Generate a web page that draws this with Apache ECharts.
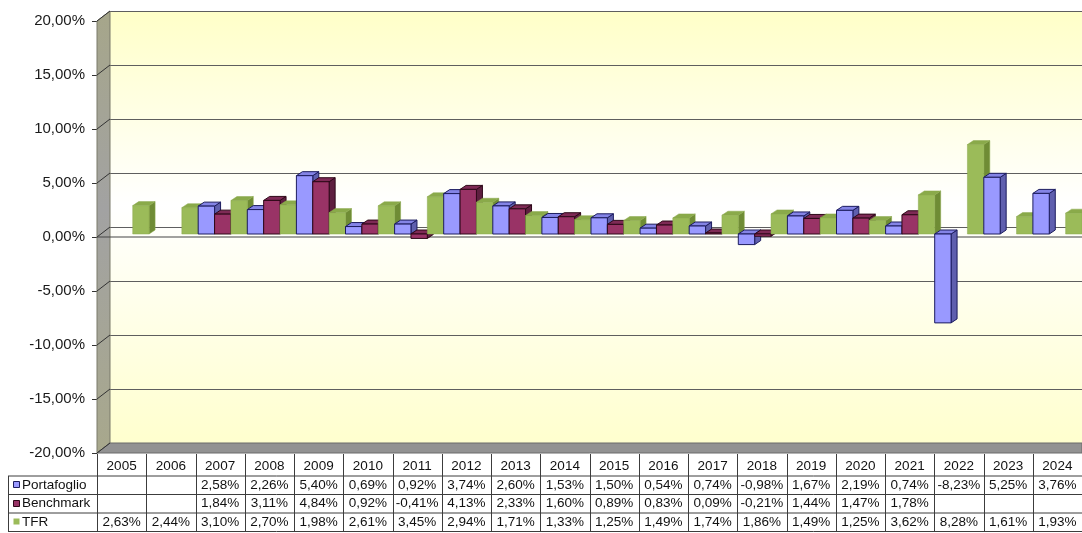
<!DOCTYPE html>
<html><head><meta charset="utf-8">
<script src="https://cdn.jsdelivr.net/npm/echarts@6/dist/echarts.min.js"></script>
<style>html,body{margin:0;padding:0;background:#fff}#c{width:1082px;height:533px}</style>
</head><body><div id="c"></div>
<script>
const years = ['2005','2006','2007','2008','2009','2010','2011','2012','2013','2014','2015','2016','2017','2018','2019','2020','2021','2022','2023','2024'];
const portafoglio = [null,null,2.58,2.26,5.40,0.69,0.92,3.74,2.60,1.53,1.50,0.54,0.74,-0.98,1.67,2.19,0.74,-8.23,5.25,3.76];
const benchmark = [null,null,1.84,3.11,4.84,0.92,-0.41,4.13,2.33,1.60,0.89,0.83,0.09,-0.21,1.44,1.47,1.78,null,null,null];
const tfr = [2.63,2.44,3.10,2.70,1.98,2.61,3.45,2.94,1.71,1.33,1.25,1.49,1.74,1.86,1.49,1.25,3.62,8.28,1.61,1.93];
const seriesNames = ['Portafoglio','Benchmark','TFR'];
const yTicks = [-20,-15,-10,-5,0,5,10,15,20];

const FONT = '"Liberation Sans", Arial, sans-serif';
const fmt = v => v.toFixed(2).replace('.', ',') + '%';
const YMIN = yTicks[0], YMAX = yTicks[yTicks.length-1], YINT = yTicks[1]-yTicks[0];

const STYLES = [
  {front:'#9999FF', top:'#8484E6', side:'#5F5FAE', stroke:'#1C1C5E', lw:1},
  {front:'#993366', top:'#7E2A55', side:'#5E1F40', stroke:'#2E0818', lw:1},
  {front:'#9BBB59', top:'#8AAA4A', side:'#6F8C35', stroke:'#8AA84C', lw:0.5}
];

function barRender(si) {
  const c = STYLES[si];
  return function (params, api) {
    const i = api.value(0), v = api.value(1);
    const p0 = api.coord([i, 0]), p1 = api.coord([i, v]);
    const cw = api.size([1, 0])[0];
    const bw = cw / 3;
    const x = p0[0] - cw / 2 + si * bw;
    const yT = Math.min(p0[1], p1[1]), yB = Math.max(p0[1], p1[1]);
    const dx = 6, dy = 4;
    const z = i * 10 + si * 3;
    return {type:'group', children:[
      {type:'polygon', z2:z, shape:{points:[[x+bw,yT],[x+bw+dx,yT-dy],[x+bw+dx,yB-dy],[x+bw,yB]]}, style:{fill:c.side, stroke:c.stroke, lineWidth:c.lw}},
      {type:'polygon', z2:z+1, shape:{points:[[x,yT],[x+dx,yT-dy],[x+bw+dx,yT-dy],[x+bw,yT]]}, style:{fill:c.top, stroke:c.stroke, lineWidth:c.lw}},
      {type:'rect', z2:z+2, shape:{x:x, y:yT, width:bw, height:Math.max(yB-yT, 0.8)}, style:{fill:c.front, stroke:c.stroke, lineWidth:c.lw}}
    ]};
  };
}
const toData = arr => arr.map((v, i) => [i, v]).filter(d => d[1] !== null);

const chart = echarts.init(document.getElementById('c'), null, {renderer:'canvas'});
const yBase = {min:YMIN, max:YMAX, interval:YINT, type:'value'};
chart.setOption({
  animation:false,
  backgroundColor:'#ffffff',
  grid:[
    {left:110, right:0, top:11, height:432, show:true, borderWidth:0,
     backgroundColor:new echarts.graphic.LinearGradient(0,0,0,1,[
       {offset:0, color:'#FFFFC8'},{offset:0.45, color:'#FFFFFF'},{offset:1, color:'#FFFFCE'}])},
    {left:100, right:-3, top:18, height:432},
    {left:97, width:1, top:21, height:432},
    {left:97, right:0, top:453, height:1}
  ],
  xAxis:[0,1,2,3].map(g => ({gridIndex:g, type:'category', data:years, show:false})),
  yAxis:[
    Object.assign({gridIndex:0, axisLabel:{show:false}, axisLine:{show:false}, axisTick:{show:false},
      splitLine:{show:true, lineStyle:{color:'#5E5E5E', width:1}}}, yBase),
    Object.assign({gridIndex:1, show:false}, yBase),
    Object.assign({gridIndex:2, axisLine:{show:false}, splitLine:{show:false},
      axisTick:{show:true, length:5, lineStyle:{color:'#333'}},
      axisLabel:{formatter:fmt, fontSize:15, color:'#1a1a1a', fontFamily:FONT, margin:12}}, yBase),
    {gridIndex:3, type:'value', show:false}
  ],
  series:[portafoglio, benchmark, tfr].map((arr, si) => ({
    type:'custom', name:seriesNames[si], xAxisIndex:1, yAxisIndex:1, z:3,
    encode:{x:0, y:1}, data:toData(arr), renderItem:barRender(si)
  }))
});

// decorations and data table, positioned through the axes
const yF = v => chart.convertToPixel({yAxisIndex:2}, v);
const yB = v => chart.convertToPixel({yAxisIndex:0}, v);
const xF = 97, xB = 110, RIGHT = 1082;
const g = [];
g.push({type:'polygon', z:1, shape:{points:[[xF,yF(YMAX)],[xB,yB(YMAX)],[xB,yB(YMIN)],[xF,yF(YMIN)]]},
  style:{fill:new echarts.graphic.LinearGradient(0,0,0,1,[
    {offset:0,color:'#A6A68A'},{offset:0.45,color:'#A2A2A2'},{offset:1,color:'#A8A88C'}]), stroke:'#7A7A6A', lineWidth:1}});
g.push({type:'polygon', z:1, shape:{points:[[xF,yF(YMIN)],[xB,yB(YMIN)],[RIGHT,yB(YMIN)],[RIGHT,yF(YMIN)]]},
  style:{fill:'#929292', stroke:'#6A6A6A', lineWidth:1}});
yTicks.forEach(t => {
  g.push({type:'line', z:1, shape:{x1:xF, y1:yF(t), x2:xB, y2:yB(t)}, style:{stroke:'#333', lineWidth:1}});
});
g.push({type:'line', z:1, shape:{x1:xF, y1:yF(0), x2:RIGHT, y2:yF(0)}, style:{stroke:'#444', lineWidth:1.2}});

// table
const tx = i => chart.convertToPixel({xAxisIndex:3}, i);
const cw = tx(1) - tx(0);
const colL = i => tx(i) - cw / 2;
const hdrTop = 453, rowB = [476, 494.5, 513, 531.5];
const LINE = '#3C3C3C';
rowB.forEach(y => g.push({type:'line', z:1, shape:{x1:8, y1:y, x2:RIGHT, y2:y}, style:{stroke:LINE, lineWidth:1}}));
g.push({type:'line', z:1, shape:{x1:8.5, y1:rowB[0], x2:8.5, y2:rowB[3]}, style:{stroke:LINE, lineWidth:1}});
for (let i = 0; i < years.length; i++) {
  const x = Math.round(colL(i)) + 0.5;
  g.push({type:'line', z:1, shape:{x1:x, y1:hdrTop+1, x2:x, y2:rowB[3]}, style:{stroke:LINE, lineWidth:1}});
  g.push({type:'text', z:1, x:tx(i), y:466, style:{text:years[i], fontSize:13.5, fontFamily:FONT, fill:'#111',
    textAlign:'center', textVerticalAlign:'middle', align:'center', verticalAlign:'middle'}});
}
const rowData = [portafoglio, benchmark, tfr];
rowData.forEach((arr, r) => {
  const yc = (rowB[r] + rowB[r+1]) / 2;
  const c = STYLES[r];
  g.push({type:'rect', z:1, shape:{x:13.5, y:Math.round(yc)-3.5, width:6, height:6},
    style:{fill:c.front, stroke: r < 2 ? c.stroke : null, lineWidth:1}});
  g.push({type:'text', z:1, x:22, y:yc, style:{text:seriesNames[r], fontSize:13.5, fontFamily:FONT, fill:'#111',
    textAlign:'left', textVerticalAlign:'middle', align:'left', verticalAlign:'middle'}});
  arr.forEach((v, i) => {
    if (v === null) return;
    g.push({type:'text', z:1, x:tx(i), y:yc, style:{text:fmt(v), fontSize:13.5, fontFamily:FONT, fill:'#111',
      textAlign:'center', textVerticalAlign:'middle', align:'center', verticalAlign:'middle'}});
  });
});
chart.setOption({graphic:{elements:g}});
</script></body></html>
